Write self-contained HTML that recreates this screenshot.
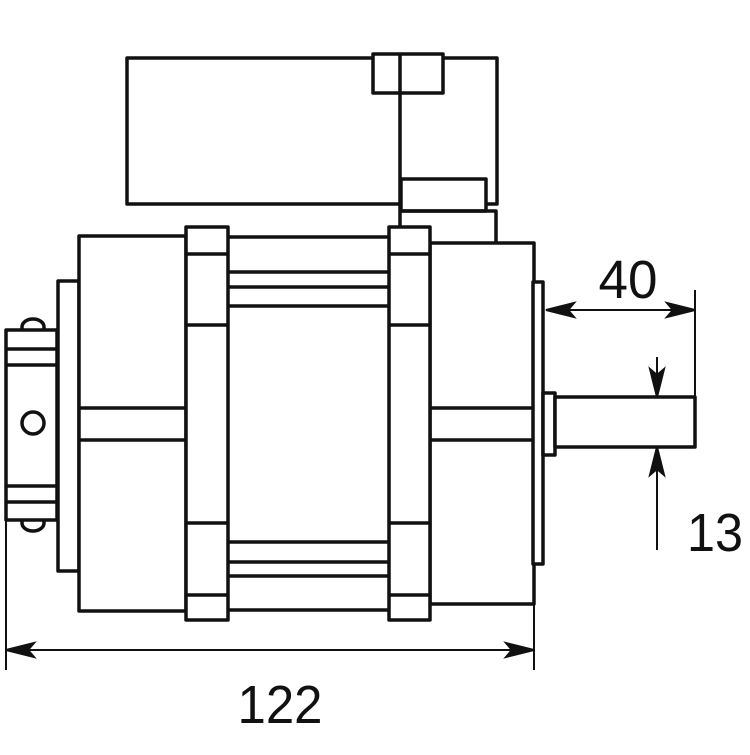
<!DOCTYPE html>
<html><head><style>html,body{margin:0;padding:0;background:#fff}</style></head>
<body>
<svg width="750" height="750" viewBox="0 0 750 750" xmlns="http://www.w3.org/2000/svg">
<g fill="#fff" stroke="#111" stroke-width="3.5" stroke-linejoin="round">
<!-- top box -->
<polyline points="400,204 127,204 127,58 373,58" fill="none"/>
<polyline points="443,58 497,58 497,204 486,204" fill="none"/>
<rect x="373" y="54" width="70" height="39"/>
<line x1="400" y1="54" x2="400" y2="227"/>
<rect x="401" y="179" width="85" height="32"/>
<polyline points="401,211 496,211 496,243" fill="none"/>
<!-- left terminal -->
<path d="M22,330 v-3 a11,8 0 0 1 22,0 v3"/>
<path d="M22,520 v3 a11,8 0 0 0 22,0 v-3"/>
<rect x="6" y="330" width="51" height="190"/>
<line x1="6" y1="349" x2="57" y2="349"/>
<line x1="6" y1="365" x2="57" y2="365"/>
<line x1="6" y1="486" x2="57" y2="486"/>
<line x1="6" y1="502" x2="57" y2="502"/>
<circle cx="33" cy="423" r="11"/>
<line x1="6" y1="520" x2="6" y2="670" stroke-width="2"/>
<!-- left flange -->
<rect x="58" y="281" width="21" height="290"/>
<!-- left body -->
<rect x="79" y="236" width="107" height="375"/>
<line x1="79" y1="408" x2="186" y2="408"/>
<line x1="79" y1="440" x2="186" y2="440"/>
<!-- rods -->
<line x1="228" y1="237" x2="389" y2="237"/>
<line x1="228" y1="272" x2="389" y2="272"/>
<line x1="228" y1="287" x2="389" y2="287"/>
<line x1="228" y1="306" x2="389" y2="306"/>
<line x1="228" y1="542" x2="389" y2="542"/>
<line x1="228" y1="562" x2="389" y2="562"/>
<line x1="228" y1="576" x2="389" y2="576"/>
<line x1="228" y1="610" x2="389" y2="610"/>
<!-- clamps -->
<rect x="186" y="227" width="42" height="393"/>
<line x1="186" y1="254" x2="228" y2="254"/>
<line x1="186" y1="325" x2="228" y2="325"/>
<line x1="186" y1="523" x2="228" y2="523"/>
<line x1="186" y1="595" x2="228" y2="595"/>
<!-- right body -->
<rect x="430" y="243" width="104" height="361"/>
<line x1="430" y1="408" x2="534" y2="408"/>
<line x1="430" y1="440" x2="534" y2="440"/>
<rect x="389" y="227" width="41" height="393"/>
<line x1="389" y1="254" x2="430" y2="254"/>
<line x1="389" y1="325" x2="430" y2="325"/>
<line x1="389" y1="523" x2="430" y2="523"/>
<line x1="389" y1="595" x2="430" y2="595"/>
<!-- right flange, collar, shaft -->
<rect x="533" y="282" width="10" height="282"/>
<rect x="543" y="393" width="12" height="62"/>
<rect x="555" y="397" width="140" height="50"/>
</g>
<g stroke="#111" stroke-width="2" fill="#111">
<line x1="534" y1="604" x2="534" y2="670"/>
<line x1="8" y1="650" x2="532" y2="650"/>
<path d="M6,650 L34,643 L28,650 L34,657 Z"/>
<path d="M534,650 L506,643 L512,650 L506,657 Z"/>
<line x1="695" y1="290" x2="695" y2="397"/>
<line x1="548" y1="310" x2="693" y2="310"/>
<path d="M546,310 L574,303 L568,310 L574,317 Z"/>
<path d="M695,310 L667,303 L673,310 L667,317 Z"/>
<line x1="657" y1="357" x2="657" y2="395"/>
<path d="M657,397 L650,369 L657,375 L664,369 Z"/>
<line x1="657" y1="449" x2="657" y2="550"/>
<path d="M657,447 L650,475 L657,469 L664,475 Z"/>
</g>
<g font-family="'Liberation Sans',sans-serif" font-size="54" fill="#111">
<text x="628" y="298" text-anchor="middle" textLength="59" lengthAdjust="spacingAndGlyphs">40</text>
<text x="715" y="551" text-anchor="middle" textLength="56" lengthAdjust="spacingAndGlyphs">13</text>
<text x="280" y="723" text-anchor="middle" textLength="85" lengthAdjust="spacingAndGlyphs">122</text>
</g>
</svg>
</body></html>
